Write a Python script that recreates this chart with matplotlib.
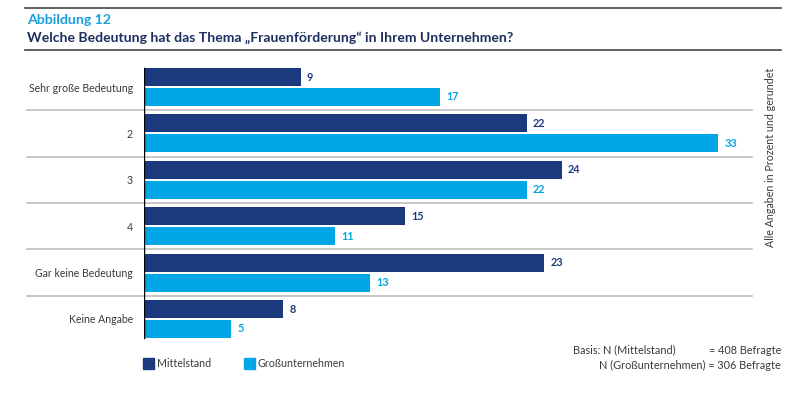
import matplotlib
matplotlib.use("Agg")
import matplotlib.pyplot as plt
import matplotlib.transforms as mtransforms
import numpy as np

categories = ["Sehr große Bedeutung", "2", "3", "4", "Gar keine Bedeutung", "Keine Angabe"]
mittelstand = [9, 22, 24, 15, 23, 8]
gross = [17, 33, 22, 11, 13, 5]
series_names = ["Mittelstand", "Großunternehmen"]

DARK = "#1b3a7e"
LIGHT = "#00a6e6"
GREY = "#bdbdbd"
TEXT = "#3a3a3a"

plt.rcParams['font.family'] = ['Lato', 'DejaVu Sans']

W, H = 800, 394
fig = plt.figure(figsize=(W / 100, H / 100), dpi=100)

def fx(px):
    return px / W

def fy(py):
    return 1 - py / H

ax_left, ax_right = 144, 752
ax_top, ax_bot = 63.8, 342.2
ax = fig.add_axes([fx(ax_left), fy(ax_bot), fx(ax_right - ax_left), (ax_bot - ax_top) / H])

n = len(categories)
y = np.arange(n)
bh = 0.39
off = 0.215
ax.barh(y - off, mittelstand, height=bh, color=DARK)
ax.barh(y + off, gross, height=bh, color=LIGHT)

xmax = (ax_right - ax_left) / 17.4
ax.set_xlim(0, xmax)
ax.set_ylim(n - 0.5, -0.5)

for yi, v in zip(y, mittelstand):
    ax.text(v + 0.35, yi - off, str(v), va='center', ha='left', fontsize=7.8,
            fontweight='bold', color=DARK)
for yi, v in zip(y, gross):
    ax.text(v + 0.35, yi + off, str(v), va='center', ha='left', fontsize=7.8,
            fontweight='bold', color=LIGHT)

# separators
sep_x0 = (27 - ax_left) / (ax_right - ax_left)
blend = mtransforms.blended_transform_factory(ax.transAxes, ax.transData)
for k in range(n - 1):
    ax.plot([sep_x0, 1], [k + 0.5, k + 0.5], transform=blend,
            color=GREY, lw=1.2, clip_on=False, zorder=0)

ax.plot([0, 0], [-0.41, n - 1 + 0.41], color='black', lw=1.0, zorder=3)

for s in ax.spines.values():
    s.set_visible(False)
ax.set_xticks([])
ax.set_yticks(y)
ax.set_yticklabels(categories, fontsize=7.6, color=TEXT)
ax.tick_params(axis='y', length=0, pad=8)

# top lines
fig.add_artist(plt.Line2D([fx(25), fx(781)], [fy(8), fy(8)], color='#444444', lw=1.2))
fig.add_artist(plt.Line2D([fx(25), fx(781)], [fy(50), fy(50)], color='#444444', lw=1.2))

fig.text(fx(27), fy(20), "Abbildung 12", fontsize=10.2, fontweight='bold', color='#1aa0dc',
         va='center', ha='left')
fig.text(fx(27), fy(38), "Welche Bedeutung hat das Thema \u201eFrauenförderung\u201c in Ihrem Unternehmen?",
         fontsize=10.1, fontweight='bold', color='#1c2f5e', va='center', ha='left')

fig.text(fx(771), fy(157), "Alle Angaben in Prozent und gerundet", rotation=90,
         fontsize=7.7, color=TEXT, va='center', ha='center')

# legend
for x0, c, name in [(143, DARK, series_names[0]), (244, LIGHT, series_names[1])]:
    fig.add_artist(plt.Rectangle((fx(x0), fy(369)), fx(11), 11 / H, color=c))
    fig.text(fx(x0 + 14), fy(363.5), name, fontsize=7.7, color=TEXT, va='center', ha='left')

fig.text(fx(573), fy(350), "Basis: N (Mittelstand)", fontsize=7.8, color=TEXT, va='center', ha='left')
fig.text(fx(781), fy(350), "= 408 Befragte", fontsize=7.8, color=TEXT, va='center', ha='right')
fig.text(fx(781), fy(365), "N (Großunternehmen) = 306 Befragte", fontsize=7.8, color=TEXT,
         va='center', ha='right')

fig.savefig("out.png", dpi=100)
